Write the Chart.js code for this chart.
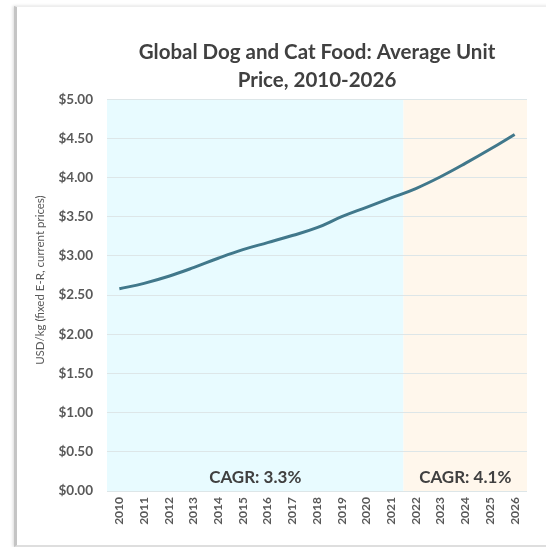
<!DOCTYPE html>
<html>
<head>
<meta charset="utf-8">
<script src="https://cdn.jsdelivr.net/npm/chart.js@4.4.0/dist/chart.umd.min.js"></script>
<style>
	html, body { margin: 0; padding: 0; background: #fff; }
	body { width: 546px; height: 547px; position: relative; overflow: hidden; }
	#card {
		position: absolute; left: 14px; top: 6px; width: 540px; height: 538px;
		background: #fff;
		border-left: 3px solid #c4c4c4;
		border-top: 1px solid #eeeeee;
		border-bottom: 2px solid #dedede;
		box-shadow: -1px 0 3px rgba(0,0,0,0.15);
	}
	#chart { position: absolute; left: 0; top: 0; }
</style>
</head>
<body>
<div id="card"></div>
<canvas id="chart" width="546" height="547"></canvas>
<script>
const years = ["2010", "2011", "2012", "2013", "2014", "2015", "2016", "2017", "2018",
	"2019", "2020", "2021", "2022", "2023", "2024", "2025", "2026"];
const prices = [2.58, 2.65, 2.74, 2.85, 2.97, 3.08, 3.17, 3.26, 3.36,
	3.50, 3.62, 3.74, 3.86, 4.01, 4.18, 4.36, 4.55];
const periods = [
	{from: 0, to: 11, label: "CAGR: 3.3%", color: "#e8fbff"},
	{from: 12, to: 16, label: "CAGR: 4.1%", color: "#fff7ec"},
];
const yTitle = "USD/kg (fixed E-R, current prices)";

const textColor = "#595959";

// background bands, CAGR labels and the y axis title
const bands = {
	id: "bands",
	beforeDraw(chart) {
		const {ctx, chartArea: a, scales: {x}} = chart;
		ctx.save();
		periods.forEach(p => {
			const l = Math.max(a.left, x.getPixelForValue(p.from - 0.5));
			const r = Math.min(a.right, x.getPixelForValue(p.to + 0.5));
			ctx.fillStyle = p.color;
			ctx.fillRect(l, a.top, r - l, a.bottom - a.top);
		});
		ctx.restore();
	},
	afterDatasetsDraw(chart) {
		const {ctx, chartArea: a, scales: {x}} = chart;
		ctx.save();
		ctx.font = "bold 17px Lato";
		ctx.fillStyle = "#404040";
		ctx.textAlign = "center";
		ctx.textBaseline = "middle";
		periods.forEach(p => {
			const l = Math.max(a.left, x.getPixelForValue(p.from - 0.5));
			const r = Math.min(a.right, x.getPixelForValue(p.to + 0.5));
			ctx.fillText(p.label, (l + r) / 2, a.bottom - 13);
		});

		ctx.translate(40, (a.top + a.bottom) / 2 - 15);
		ctx.rotate(-Math.PI / 2);
		ctx.font = "11.5px Lato";
		ctx.fillStyle = textColor;
		ctx.fillText(yTitle, 0, 0);
		ctx.restore();
	}
};

new Chart(document.getElementById("chart"), {
	type: "line",
	data: {
		labels: years,
		datasets: [{
			data: prices,
			borderColor: "#41788b",
			borderWidth: 3,
			pointRadius: 0,
			tension: 0.4,
			fill: false,
		}],
	},
	options: {
		responsive: false,
		animation: false,
		layout: {padding: {left: 28, right: 19, top: 38, bottom: 10}},
		plugins: {
			legend: {display: false},
			tooltip: {enabled: false},
			title: {
				display: true,
				fullSize: false,
				text: ["Global Dog and Cat Food: Average Unit", "Price, 2010-2026"],
				color: "#404040",
				font: {family: "Lato", size: 20.5, weight: "bold", lineHeight: 1.37},
				padding: {top: 0, bottom: 5},
			},
		},
		scales: {
			x: {
				offset: true,
				grid: {display: false, drawTicks: false},
				border: {display: false},
				ticks: {
					color: textColor,
					font: {family: "Lato", size: 12, weight: "bold"},
					maxRotation: 90, minRotation: 90,
					autoSkip: false,
					padding: 6,
				},
				afterFit(scale) { scale.height = 46; },
			},
			y: {
				min: 0, max: 5,
				ticks: {
					stepSize: 0.5,
					color: textColor,
					font: {family: "Lato", size: 13.5, weight: "bold"},
					padding: 14,
					callback: v => "$" + v.toFixed(2),
				},
				grid: {color: "#dde6e8", drawTicks: false, lineWidth: 1},
				border: {display: false},
				afterFit(scale) { scale.width = 79; },
			},
		},
	},
	plugins: [bands],
});
</script>
</body>
</html>
